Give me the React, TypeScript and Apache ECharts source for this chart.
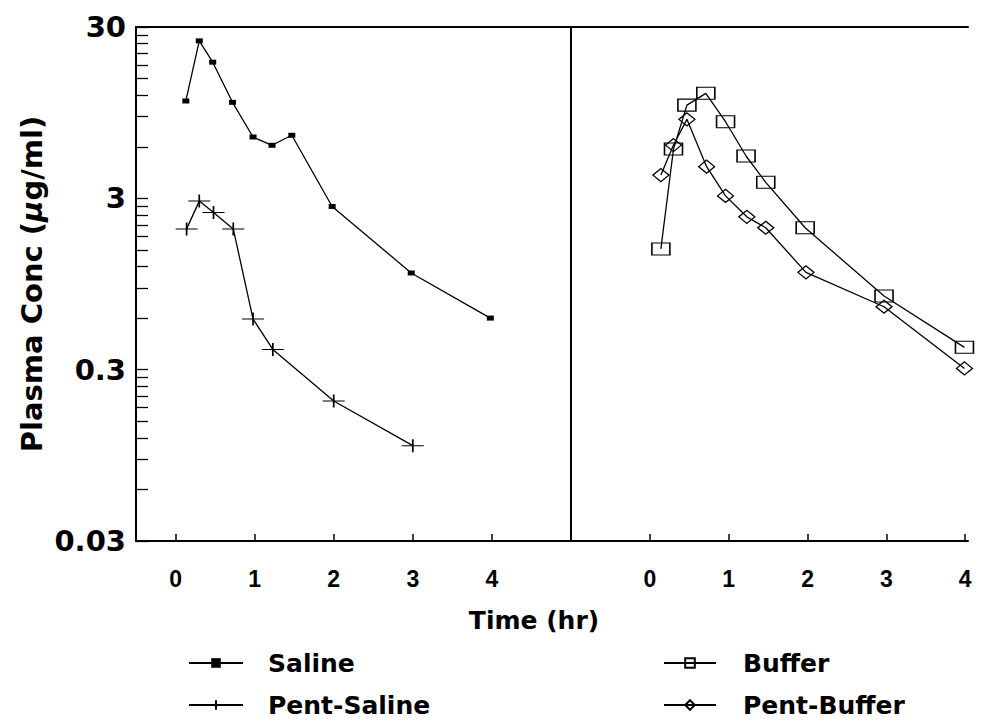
import React, { useEffect, useRef } from "react";
import * as echarts from "echarts";

// Left panel
const salineT = [0.13, 0.3, 0.47, 0.72, 0.98, 1.22, 1.47, 1.98, 2.98, 3.98];
const salineV = [11.1, 24.9, 18.7, 10.9, 6.84, 6.12, 7.0, 2.69, 1.1, 0.6];
const pentSalineT = [0.14, 0.3, 0.48, 0.73, 0.98, 1.23, 2.0, 3.0];
const pentSalineV = [1.99, 2.89, 2.48, 1.99, 0.592, 0.394, 0.197, 0.108];

// Right panel
const bufferT = [0.14, 0.3, 0.47, 0.71, 0.96, 1.22, 1.47, 1.97, 2.97, 3.99];
const bufferV = [1.52, 5.82, 10.5, 12.3, 8.4, 5.3, 3.72, 2.02, 0.807, 0.405];
const pentBufferT = [0.14, 0.3, 0.47, 0.72, 0.96, 1.23, 1.47, 1.98, 2.97, 3.99];
const pentBufferV = [4.1, 6.14, 8.67, 4.59, 3.1, 2.34, 2.02, 1.11, 0.699, 0.305];

const xTickValues = [0, 1, 2, 3, 4];
const yLabelValues = [0.03, 0.3, 3, 30];
const yLabelTexts = ["0.03", "0.3", "3", "30"];
const yTickValues = [
  0.03, 0.06, 0.09, 0.12, 0.15, 0.18, 0.21, 0.24, 0.27,
  0.3, 0.6, 0.9, 1.2, 1.5, 1.8, 2.1, 2.4, 2.7,
  3, 6, 9, 12, 15, 18, 21, 24, 27, 30,
];

const pair = (t: number[], v: number[]) => t.map((x, i) => [x, v[i]]);

const WIDE = "'DejaVu Sans', Verdana, sans-serif";
const NARROW = "'Liberation Sans', Arial, sans-serif";

export default function App() {
  const ref = useRef<HTMLDivElement>(null);
  useEffect(() => {
    if (!ref.current) return;
    const chart = echarts.init(ref.current, undefined, { renderer: "svg" });
    const lineStyle = { color: "#000", width: 1.3 };
    const xCommon = (min: number, max: number, gridIndex: number) => ({
      type: "value",
      gridIndex,
      min,
      max,
      position: "bottom",
      splitLine: { show: false },
      axisLine: { show: true, onZero: false, lineStyle: { color: "#000", width: 2 } },
      axisTick: {
        show: true,
        inside: true,
        length: 7,
        customValues: xTickValues,
        lineStyle: { color: "#000", width: 1.5 },
      },
      axisLabel: {
        show: true,
        customValues: xTickValues,
        margin: 26,
        color: "#000",
        fontFamily: NARROW,
        fontWeight: "bold",
        fontSize: 23,
      },
    });
    const fmtY = (v: number) => {
      let best = 0;
      let bd = Infinity;
      yLabelValues.forEach((lv, i) => {
        const d = Math.abs(Math.log10(lv) - Math.log10(v));
        if (d < bd) {
          bd = d;
          best = i;
        }
      });
      return yLabelTexts[best];
    };
    const legendText = (pad: number) => ({
      color: "#000",
      fontFamily: WIDE,
      fontWeight: "bold",
      fontSize: 25,
      lineHeight: 28,
      padding: [0, 0, 0, pad],
    });
    const option: any = {
      animation: false,
      backgroundColor: "#fff",
      grid: [
        {
          left: 136,
          top: 27,
          width: 435,
          bottom: 182,
          show: true,
          borderColor: "#000",
          borderWidth: 2,
        },
        { left: 571, top: 27, right: 24, bottom: 182 },
      ],
      xAxis: [
        xCommon(-0.5, 5, 0),
        xCommon(-1, 4.035, 1),
        {
          type: "value",
          gridIndex: 1,
          position: "top",
          min: -1,
          max: 4.035,
          axisLine: { show: true, onZero: false, lineStyle: { color: "#000", width: 2 } },
          axisTick: { show: false },
          axisLabel: { show: false },
          splitLine: { show: false },
        },
      ],
      yAxis: [
        {
          type: "log",
          logBase: 10,
          gridIndex: 0,
          min: 0.03,
          max: 30,
          name: "Plasma Conc ({mu|μ}g/ml)",
          nameLocation: "middle",
          nameGap: 90,
          nameTextStyle: {
            color: "#000",
            fontFamily: WIDE,
            fontWeight: "bold",
            fontSize: 29,
            rich: {
              mu: {
                color: "#000",
                fontFamily: WIDE,
                fontWeight: "bold",
                fontStyle: "italic",
                fontSize: 29,
              },
            },
          },
          splitLine: { show: false },
          minorTick: { show: false },
          axisLine: { show: true, onZero: false, lineStyle: { color: "#000", width: 2 } },
          axisTick: {
            show: true,
            inside: true,
            length: 12,
            customValues: yTickValues,
            lineStyle: { color: "#000", width: 1.3 },
          },
          axisLabel: {
            show: true,
            customValues: yLabelValues,
            formatter: fmtY,
            margin: 10,
            color: "#000",
            fontFamily: WIDE,
            fontWeight: "bold",
            fontSize: 29,
          },
        },
        {
          type: "log",
          logBase: 10,
          gridIndex: 1,
          min: 0.03,
          max: 30,
          show: false,
          splitLine: { show: false },
        },
      ],
      legend: [
        {
          data: ["Saline", "Pent-Saline"],
          orient: "vertical",
          left: 188,
          top: 649,
          padding: 0,
          itemWidth: 54,
          itemHeight: 12,
          itemGap: 14,
          textStyle: legendText(20),
        },
        {
          data: ["Buffer", "Pent-Buffer"],
          orient: "vertical",
          left: 663,
          top: 649,
          padding: 0,
          itemWidth: 52,
          itemHeight: 12,
          itemGap: 14,
          textStyle: legendText(22),
        },
      ],
      graphic: [
        {
          type: "text",
          x: 534,
          y: 620,
          style: {
            text: "Time (hr)",
            align: "center",
            verticalAlign: "middle",
            fill: "#000",
            font: `bold 25px ${WIDE}`,
          },
        },
      ],
      series: [
        {
          name: "Saline",
          type: "line",
          xAxisIndex: 0,
          yAxisIndex: 0,
          data: pair(salineT, salineV),
          symbol: "rect",
          symbolSize: [7, 5],
          itemStyle: { color: "#000" },
          lineStyle,
        },
        {
          name: "Pent-Saline",
          type: "line",
          xAxisIndex: 0,
          yAxisIndex: 0,
          data: pair(pentSalineT, pentSalineV),
          symbol: "path://M0,6H22M11,0V12",
          symbolSize: [22, 13],
          itemStyle: { color: "transparent", borderColor: "#000", borderWidth: 1.3 },
          lineStyle,
        },
        {
          name: "Buffer",
          type: "line",
          xAxisIndex: 1,
          yAxisIndex: 1,
          data: pair(bufferT, bufferV),
          symbol: "rect",
          symbolSize: [18, 12],
          itemStyle: { color: "transparent", borderColor: "#000", borderWidth: 1.3 },
          lineStyle,
        },
        {
          name: "Pent-Buffer",
          type: "line",
          xAxisIndex: 1,
          yAxisIndex: 1,
          data: pair(pentBufferT, pentBufferV),
          symbol: "diamond",
          symbolSize: [16, 13],
          itemStyle: { color: "transparent", borderColor: "#000", borderWidth: 1.3 },
          lineStyle,
        },
      ],
    };
    chart.setOption(option);
    return () => chart.dispose();
  }, []);
  return (
    <div
      ref={ref}
      style={{ position: "fixed", left: 0, top: 0, width: 992, height: 723, background: "#fff" }}
    />
  );
}
